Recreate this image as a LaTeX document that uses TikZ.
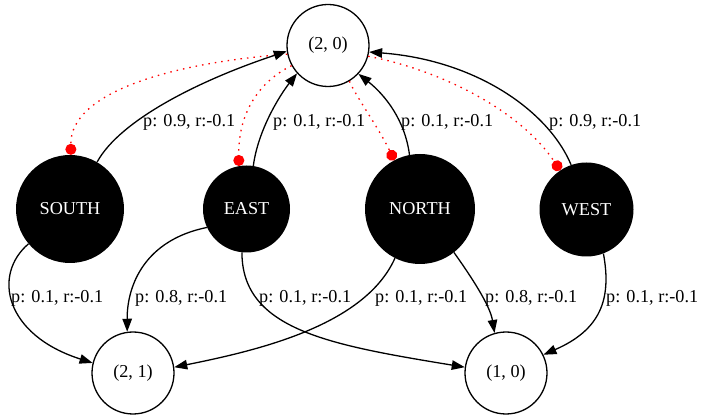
\documentclass[tikz,border=0pt]{standalone}
\usepackage{fontspec}
\setmainfont{Liberation Serif}
\usetikzlibrary{arrows.meta}
\begin{document}
\begin{tikzpicture}[x=1pt,y=-1pt,
  every node/.style={font=\fontsize{18.2}{22}\selectfont},
  state/.style={circle,draw=black,line width=1.3pt,fill=white,inner sep=0pt},
  action/.style={circle,fill=black,text=white,inner sep=0pt},
  trans/.style={line width=1.3pt,-{Triangle[length=13pt,width=9.5pt]}},
  choice/.style={red,line width=1.3pt,dash pattern=on 1.5pt off 5pt,-{Circle[length=11pt]}},
  lbl/.style={anchor=base west,inner sep=0pt}]
\useasboundingbox (0,0) rectangle (704,419);

% nodes
\node[state,minimum size=82pt] (n20) at (328,45.5) {(2, 0)};
\node[action,minimum size=108pt] (S) at (70,209) {SOUTH};
\node[action,minimum size=87pt] (E) at (246.5,209) {EAST};
\node[action,minimum size=110pt] (N) at (420,209) {NORTH};
\node[action,minimum size=94pt] (W) at (586.5,209.5) {WEST};
\node[state,minimum size=82pt] (n21) at (133,373) {(2, 1)};
\node[state,minimum size=82pt] (n10) at (506,373) {(1, 0)};

% choice edges (dotted)
\draw[choice] (n20.192) .. controls (180,62) and (70,90) .. (S.89);
\draw[choice] (n20.209) .. controls (262,80) and (238,110) .. (E.100);
\draw[choice] (n20.301) .. controls (355,95) and (380,130) .. (N.118);
\draw[choice] (n20.345) .. controls (440,70) and (520,110) .. (W.124);

% transitions back to (2,0)
\draw[trans] (S.60) .. controls (120,120) and (200,80) .. (n20.188);
\draw[trans] (E.81) .. controls (258,130) and (280,95) .. (n20.222);
\draw[trans] (N.101) .. controls (405,120) and (385,95) .. (n20.317);
\draw[trans] (W.109) .. controls (548,110) and (475,60) .. (n20.351);

% transitions downwards
\draw[trans] (S.220) .. controls (-8,275) and (5,335) .. (n21.166);
\draw[trans] (E.205) .. controls (145,240) and (127,285) .. (n21.98);
\draw[trans] (E.264) .. controls (242,330) and (330,345) .. (n10.172);
\draw[trans] (N.243) .. controls (365,325) and (260,350) .. (n21.8);
\draw[trans] (N.308) .. controls (470,275) and (490,305) .. (n10.106);
\draw[trans] (W.291) .. controls (612,300) and (600,330) .. (n10.26);

% labels
\node[lbl] (l1) at (143,127) {p: 0.9, r:-0.1};
\node[lbl] (l2) at (273,127) {p: 0.1, r:-0.1};
\node[lbl] (l3) at (401,127) {p: 0.1, r:-0.1};
\node[lbl] (l4) at (549,127) {p: 0.9, r:-0.1};
\node[lbl] (l5) at (11,303) {p: 0.1, r:-0.1};
\node[lbl] (l6) at (135,303) {p: 0.8, r:-0.1};
\node[lbl] (l7) at (259,303) {p: 0.1, r:-0.1};
\node[lbl] (l8) at (375,303) {p: 0.1, r:-0.1};
\node[lbl] (l9) at (485,303) {p: 0.8, r:-0.1};
\node[lbl] (l10) at (606,303) {p: 0.1, r:-0.1};
\end{tikzpicture}
\end{document}
